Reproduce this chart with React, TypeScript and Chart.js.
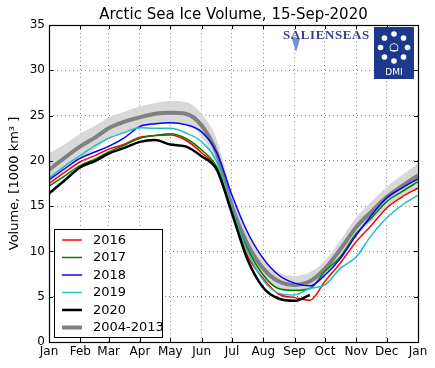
import React, { useEffect, useRef } from "react";
import { Chart, registerables } from "chart.js";

Chart.register(...registerables);

// ---- data (day of year → volume, 1000 km³) ----
const days = [0, 15, 31, 46, 59, 74, 90, 105, 120, 135, 151, 166, 181, 196, 212, 227, 243, 258, 273, 288, 304, 319, 334, 349, 365];
const days2020 = [0, 15, 31, 46, 59, 74, 90, 105, 120, 135, 151, 166, 181, 196, 212, 227, 243, 258];

const monthTicks = [0, 31, 59, 90, 120, 151, 181, 212, 243, 273, 304, 334, 365];
const monthLabels = ["Jan", "Feb", "Mar", "Apr", "May", "Jun", "Jul", "Aug", "Sep", "Oct", "Nov", "Dec", "Jan"];
const yTickValues = [0, 5, 10, 15, 20, 25, 30, 35];

const vol2016 = [17.5, 18.7, 19.9, 20.6, 21.3, 21.8, 22.6, 22.8, 22.85, 22.3, 20.9, 19.2, 14.4, 9.6, 7.0, 5.3, 4.9, 4.6, 6.7, 8.7, 11.1, 12.9, 14.8, 16.0, 17.0];
const vol2017 = [17.2, 18.3, 19.5, 20.2, 21.0, 21.7, 22.5, 22.8, 23.0, 22.5, 21.2, 19.3, 14.5, 10.4, 7.4, 5.9, 5.7, 5.9, 7.8, 9.4, 12.0, 13.7, 15.5, 16.6, 17.7];
const vol2018 = [17.9, 19.1, 20.3, 21.0, 21.6, 22.5, 23.8, 24.1, 24.2, 24.0, 23.2, 20.9, 16.2, 12.2, 9.2, 7.4, 6.5, 6.2, 7.4, 9.2, 11.8, 14.0, 15.9, 17.0, 18.0];
const vol2019 = [18.1, 19.4, 20.6, 21.7, 22.5, 23.1, 23.65, 23.6, 23.6, 23.1, 22.1, 19.9, 14.7, 10.1, 6.8, 5.4, 5.2, 5.9, 6.3, 8.1, 9.4, 11.8, 13.7, 15.1, 16.2];
const vol2020 = [16.4, 17.8, 19.3, 20.0, 20.8, 21.4, 22.1, 22.3, 21.8, 21.6, 20.5, 19.0, 14.2, 9.2, 6.0, 4.8, 4.55, 5.2];
const mean0413 = [19.0, 20.3, 21.6, 22.6, 23.6, 24.3, 24.8, 25.2, 25.3, 25.2, 23.9, 20.8, 15.0, 10.9, 8.1, 6.7, 6.3, 6.7, 8.1, 10.2, 12.7, 14.4, 16.0, 17.2, 18.4];
const bandHigh = [20.8, 21.8, 23.0, 23.9, 24.8, 25.4, 26.0, 26.4, 26.6, 26.5, 25.2, 22.3, 16.4, 12.2, 9.2, 7.7, 7.3, 7.7, 9.0, 11.2, 13.8, 15.5, 17.1, 18.4, 19.7];
const bandLow = [17.6, 18.9, 20.2, 21.3, 22.4, 23.1, 23.7, 24.0, 24.1, 24.0, 22.7, 19.4, 13.7, 9.9, 7.1, 5.8, 5.5, 5.8, 7.2, 9.2, 11.7, 13.3, 14.9, 16.0, 17.1];

const seriesLabels = ["2016", "2017", "2018", "2019", "2020", "2004-2013"];
const seriesColors = ["#ff0000", "#008000", "#0000ff", "#1fbfbf", "#000000", "#808080"];
const seriesWidths = [1.5, 1.5, 1.5, 1.5, 2.5, 4];

const FONT = '"DejaVu Sans", sans-serif';

const pts = (xs: number[], ys: number[]) => ys.map((y, i) => ({ x: xs[i], y }));

const framePlugin = {
  id: "frameTicks",
  afterDatasetsDraw(chart: any) {
    const { ctx, chartArea: a, scales } = chart;
    ctx.save();
    ctx.strokeStyle = "#000";
    ctx.lineWidth = 1;
    ctx.beginPath();
    for (const v of monthTicks) {
      const x = Math.round(scales.x.getPixelForValue(v)) + 0.5;
      ctx.moveTo(x, a.bottom);
      ctx.lineTo(x, a.bottom - 4);
      ctx.moveTo(x, a.top);
      ctx.lineTo(x, a.top + 4);
    }
    for (const v of yTickValues) {
      const y = Math.round(scales.y.getPixelForValue(v)) + 0.5;
      ctx.moveTo(a.left, y);
      ctx.lineTo(a.left + 4, y);
      ctx.moveTo(a.right, y);
      ctx.lineTo(a.right - 4, y);
    }
    ctx.stroke();
    ctx.lineWidth = 1.2;
    ctx.strokeRect(Math.round(a.left) + 0.5, Math.round(a.top) + 0.5, Math.round(a.right - a.left), Math.round(a.bottom - a.top));

    // legend
    const lx = 54.5, ly = 229.5, lw = 108, lh = 108;
    ctx.fillStyle = "#fff";
    ctx.fillRect(lx, ly, lw, lh);
    ctx.lineWidth = 1;
    ctx.strokeStyle = "#000";
    ctx.strokeRect(lx, ly, lw, lh);
    ctx.font = `13px ${FONT}`;
    ctx.textBaseline = "middle";
    ctx.textAlign = "left";
    seriesLabels.forEach((lab, i) => {
      const y = 240 + i * 17.5;
      ctx.strokeStyle = seriesColors[i];
      ctx.lineWidth = seriesWidths[i];
      ctx.beginPath();
      ctx.moveTo(62, y);
      ctx.lineTo(82, y);
      ctx.stroke();
      ctx.fillStyle = "#000";
      ctx.fillText(lab, 93, y + 0.5);
    });
    ctx.restore();
  },
  afterDraw(chart: any) {
    const { ctx, chartArea: a } = chart;
    ctx.save();
    // title
    ctx.fillStyle = "#000";
    ctx.font = `15px ${FONT}`;
    ctx.textAlign = "center";
    ctx.textBaseline = "alphabetic";
    ctx.fillText("Arctic Sea Ice Volume, 15-Sep-2020", (a.left + a.right) / 2, 19);

    // SALIENSEAS logo
    ctx.fillStyle = "#6f93cf";
    ctx.beginPath();
    ctx.moveTo(291, 36);
    ctx.lineTo(300, 39);
    ctx.lineTo(296, 52);
    ctx.closePath();
    ctx.fill();
    ctx.font = 'bold 13px "Liberation Serif", "DejaVu Serif", serif';
    ctx.fillStyle = "#3b3f86";
    ctx.textAlign = "left";
    (ctx as any).letterSpacing = "0.6px";
    ctx.fillText("SALIENSEAS", 283, 39);
    (ctx as any).letterSpacing = "0px";

    // DMI logo
    ctx.fillStyle = "#1b3a8d";
    ctx.fillRect(374, 27, 40, 52);
    ctx.fillStyle = "#fff";
    const cx = 394, cy = 47.5, r = 13.5;
    for (let k = 0; k < 8; k++) {
      const ang = (k * Math.PI) / 4;
      ctx.beginPath();
      ctx.arc(cx + r * Math.sin(ang), cy - r * Math.cos(ang), 2.8, 0, Math.PI * 2);
      ctx.fill();
    }
    ctx.strokeStyle = "#fff";
    ctx.lineWidth = 0.8;
    ctx.beginPath();
    ctx.arc(cx, cy, 4, 0, Math.PI * 2);
    ctx.stroke();
    ctx.beginPath();
    ctx.moveTo(cx - 4, cy + 3);
    ctx.lineTo(cx + 4, cy + 3);
    ctx.stroke();
    ctx.font = `9px ${FONT}`;
    ctx.textAlign = "center";
    ctx.fillText("DMI", cx, 75);
    ctx.restore();
  },
};

export default function App() {
  const ref = useRef<HTMLCanvasElement | null>(null);
  useEffect(() => {
    if (!ref.current) return;
    const lineDs = (i: number, xs: number[], ys: number[], order: number) => ({
      label: seriesLabels[i],
      data: pts(xs, ys),
      borderColor: seriesColors[i],
      backgroundColor: seriesColors[i],
      borderWidth: seriesWidths[i],
      pointRadius: 0,
      cubicInterpolationMode: "monotone" as const,
      fill: false,
      order,
    });
    const chart = new Chart(ref.current, {
      type: "line",
      data: {
        datasets: [
          {
            label: "band-high",
            data: pts(days, bandHigh),
            borderWidth: 0,
            borderColor: "rgba(0,0,0,0)",
            backgroundColor: "#d8d8d8",
            pointRadius: 0,
            cubicInterpolationMode: "monotone",
            fill: "+1",
            order: 20,
          },
          {
            label: "band-low",
            data: pts(days, bandLow),
            borderWidth: 0,
            borderColor: "rgba(0,0,0,0)",
            pointRadius: 0,
            cubicInterpolationMode: "monotone",
            fill: false,
            order: 19,
          },
          lineDs(5, days, mean0413, 10),
          lineDs(0, days, vol2016, 6),
          lineDs(1, days, vol2017, 5),
          lineDs(2, days, vol2018, 4),
          lineDs(3, days, vol2019, 3),
          lineDs(4, days2020, vol2020, 1),
        ] as any,
      },
      options: {
        animation: false,
        responsive: false,
        layout: { padding: { left: 0, right: 17, top: 25, bottom: 0 } },
        plugins: {
          legend: { display: false },
          title: { display: false },
          tooltip: { enabled: false },
        },
        scales: {
          x: {
            type: "linear",
            min: 0,
            max: 365,
            afterBuildTicks: (s: any) => {
              s.ticks = monthTicks.map((v) => ({ value: v }));
            },
            afterFit: (s: any) => {
              s.height = 26;
            },
            ticks: {
              autoSkip: false,
              maxRotation: 0,
              padding: 3,
              color: "#000",
              font: { family: FONT, size: 12 },
              callback: (_v: any, i: number) => monthLabels[i],
            },
            grid: { color: "#8a8a8a", lineWidth: 1, drawTicks: false },
            border: { display: false, dash: [1, 3] },
          },
          y: {
            min: 0,
            max: 35,
            afterBuildTicks: (s: any) => {
              s.ticks = yTickValues.map((v) => ({ value: v }));
            },
            afterFit: (s: any) => {
              s.width = 49;
            },
            ticks: {
              padding: 4,
              color: "#000",
              font: { family: FONT, size: 12 },
            },
            title: {
              display: true,
              text: "Volume, [1000 km³ ]",
              color: "#000",
              font: { family: FONT, size: 13 },
              padding: { top: 7, bottom: 0 },
            },
            grid: { color: "#8a8a8a", lineWidth: 1, drawTicks: false },
            border: { display: false, dash: [1, 3] },
          },
        },
      } as any,
      plugins: [framePlugin],
    });
    return () => chart.destroy();
  }, []);
  return (
    <div style={{ position: "absolute", left: 0, top: 0, width: 435, height: 368, background: "#fff" }}>
      <canvas ref={ref} width={435} height={368} style={{ display: "block" }} />
    </div>
  );
}
